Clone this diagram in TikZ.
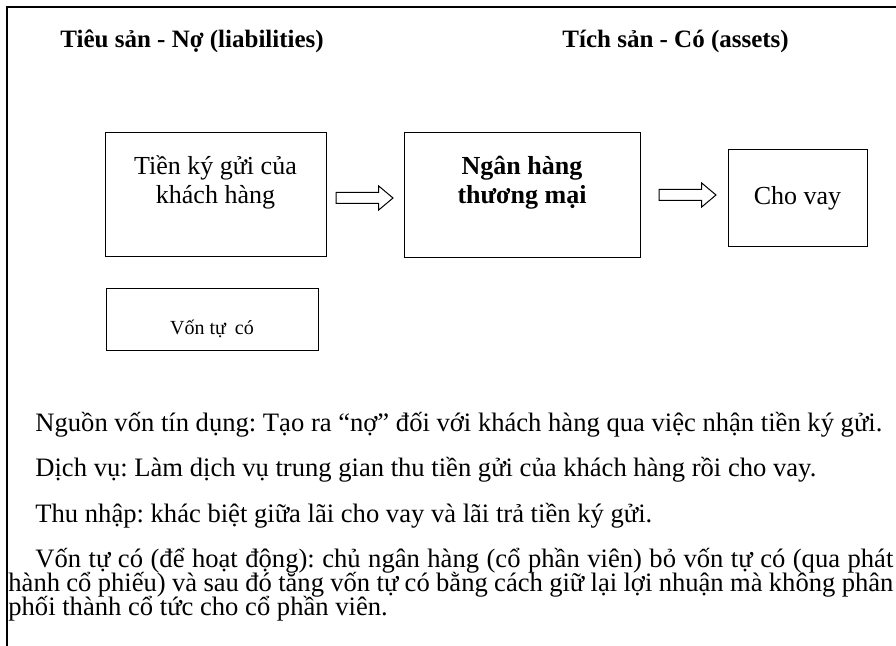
\documentclass[tikz,border=0pt]{standalone}
\usepackage{fontspec}
\setmainfont{Liberation Serif}
\usetikzlibrary{positioning,shapes.arrows}
\frenchspacing
\newcommand{\upstack}[1]{\raisebox{6pt}[\height][\depth]{\begin{tabular}{@{}c@{}}#1\end{tabular}}}

\begin{document}
\begin{tikzpicture}[x=0.5pt,y=-0.5pt]
 \tikzset{box/.style = {shape=rectangle,draw,line width=0.5pt,inner sep=0pt,align=center}}
 \tikzset{flow/.style = {single arrow,draw,line width=0.5pt,inner xsep=0pt,inner ysep=2.5pt,minimum width=11.5pt,
   minimum height=28.5pt,single arrow head extend=3.25pt,single arrow tip angle=80}}
 \tikzset{head/.style = {anchor=base west,inner sep=0pt,font=\fontsize{12.5pt}{15pt}\selectfont\bfseries}}
 \tikzset{txt/.style = {anchor=base west,inner sep=0pt,font=\fontsize{13.3pt}{15pt}\selectfont}}
 \useasboundingbox (0,0) rectangle (896,646);
 % frame
 \draw[line width=1pt] (896,7) -- (7,7) -- (7,646);

 % headings
 \node[head] (no) at (60,48) {Tiêu sản - Nợ (liabilities)};
 \node[head] (co) at (562,48) {Tích sản - Có (assets)};

 % boxes
 \node[box,minimum width=110.5pt,minimum height=62pt,font=\fontsize{13pt}{14.5pt}\selectfont] (tien) at (215.5,195) {\upstack{Tiền ký gửi của\\khách hàng}};
 \node[box,minimum width=118pt,minimum height=62.5pt,right=38.5pt of tien,font=\fontsize{13pt}{14.5pt}\selectfont\bfseries] (nh) {\upstack{Ngân hàng\\thương mại}};
 \node[box,minimum width=69.5pt,minimum height=48.5pt,right=43.5pt of nh,yshift=-1.5pt,font=\fontsize{13pt}{15pt}\selectfont] (vay) {Cho vay};
 \node[box,minimum width=106pt,minimum height=31pt,below=15.5pt of tien,xshift=-1.75pt,text height=15pt,text depth=0pt,
   font=\fontsize{10pt}{12pt}\selectfont] (von) {Vốn tự\hspace{2pt} có};

 % arrows
 \node[flow,right=4.5pt of tien,yshift=-1.5pt] (a1) {};
 \node[flow,right=9pt of nh] (a2) {};

 % notes
 \node[txt] (l1) at (35,432) {Nguồn vốn tín dụng: Tạo ra “nợ” đối với khách hàng qua việc nhận tiền ký gửi.};
 \node[txt] (l2) at (35,477) {Dịch vụ: Làm dịch vụ trung gian thu tiền gửi của khách hàng rồi cho vay.};
 \node[txt] (l3) at (35,523) {Thu nhập: khác biệt giữa lãi cho vay và lãi trả tiền ký gửi.};
 \node[txt] (l4) at (35,568) {\makebox[429pt][s]{Vốn tự có (để hoạt động): chủ ngân hàng (cổ phần viên) bỏ vốn tự có (qua phát}};
 \node[txt] (l5) at (8,592) {\makebox[442.5pt][s]{hành cổ phiếu) và sau đó tăng vốn tự có bằng cách giữ lại lợi nhuận mà không phân}};
 \node[txt] (l6) at (8,616) {phối thành cổ tức cho cổ phần viên.};
\end{tikzpicture}
\end{document}
